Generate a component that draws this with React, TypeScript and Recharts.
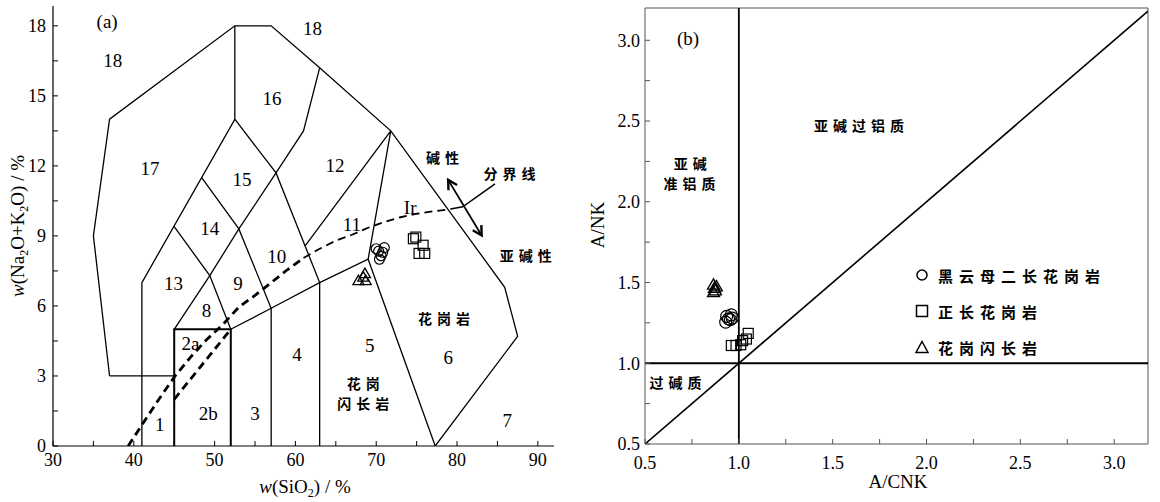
import React from "react";
import {
  ComposedChart,
  Line,
  Scatter,
  XAxis,
  YAxis,
  ReferenceLine,
  Legend,
} from "recharts";

const serif = "'Liberation Serif', 'Times New Roman', serif";
const cjk = "'Noto Sans CJK SC', sans-serif";

// ---------- (a) TAS diagram ----------
const tasXTicks = [30, 35, 40, 45, 50, 55, 60, 65, 70, 75, 80, 85, 90];
const tasYTicks = [0, 1.5, 3, 4.5, 6, 7.5, 9, 10.5, 12, 13.5, 15, 16.5, 18];

const outerBoundary = [
  [37, 3], [35, 9], [37, 14], [52.5, 18], [57, 18], [63, 16.2],
  [71.8, 13.5], [85.9, 6.8], [87.5, 4.7], [77.3, 0],
];
const fieldLines = [
  [[37, 3], [45, 3]],
  [[41, 0], [41, 7], [52.5, 14], [52.5, 18]],
  [[45, 5], [49.4, 7.3], [53, 9.3], [57.6, 11.7], [61, 13.5], [63, 16.2]],
  [[45, 9.4], [49.4, 7.3], [52, 5]],
  [[48.4, 11.5], [53, 9.3], [57, 5.9], [57, 0]],
  [[52.5, 14], [57.6, 11.7], [63, 7], [63, 0]],
  [[52, 5], [57, 5.9], [63, 7], [69, 8], [77.3, 0]],
  [[69, 8], [71.8, 13.5], [61.2, 8.57]],
];
const basaltBox = [[45, 0], [45, 5], [52, 5], [52, 0]];
const irvineLower = [
  [39.3, 0], [41, 0.9], [43, 1.95], [45, 2.95], [47, 3.8], [49, 4.55],
  [51, 5.2], [53, 5.95], [55, 6.45], [57, 7.0], [59, 7.55], [61, 8.05],
];
const irvineUpper = [
  [61, 8.05], [63, 8.45], [65, 8.8], [67, 9.05], [69, 9.35], [71, 9.6],
  [73, 9.8], [75, 9.95], [77, 10.05], [79.2, 10.15],
];
const basaltSplit = [[45, 2], [52, 5]];
const leader = [[79.2, 10.15], [80.7, 10.25], [84.7, 11.23]];
const arrowShaft = [[78.9, 11.4], [83.05, 9.02]];
const arrowTipUp = [[78.9, 11.4]];
const arrowTipDown = [[83.05, 9.02]];

const tasBiotite = [[70.0, 8.45], [71.0, 8.5], [70.6, 8.15], [70.4, 8.0], [70.8, 8.3], [70.3, 8.35]];
const tasSyeno = [[74.6, 8.88], [74.9, 8.95], [75.8, 8.6], [75.3, 8.25], [76.0, 8.25]];
const tasGrano = [[67.8, 7.05], [68.6, 7.35], [68.7, 7.05], [68.4, 7.2]];

const tasNumbers = [
  ["(a)", 36.7, 18.2], ["18", 37.4, 16.5], ["18", 62.1, 17.9], ["16", 57.1, 14.9],
  ["17", 42, 11.9], ["15", 53.4, 11.4], ["14", 49.4, 9.3], ["12", 64.9, 12.0],
  ["13", 44.9, 6.95], ["8", 49, 5.8], ["9", 52.9, 6.95], ["10", 57.7, 8.1],
  ["11", 67.0, 9.5], ["Ir", 74.2, 10.2], ["2a", 47, 4.4], ["2b", 49.2, 1.4],
  ["1", 43.2, 0.9], ["3", 55, 1.4], ["4", 60.2, 3.9], ["5", 69.2, 4.3],
  ["6", 78.9, 3.8], ["7", 86.2, 1.1],
];
const tasWords = [
  ["花岗岩", 78.7, 5.5], ["花岗", 68.7, 2.7], ["闪长岩", 68.7, 1.85],
  ["碱性", 78.5, 12.4], ["分界线", 86.8, 11.7], ["亚碱性", 88.8, 8.2],
];

// ---------- (b) A/CNK - A/NK ----------
const acnkTicks = [0.5, 0.75, 1, 1.25, 1.5, 1.75, 2, 2.25, 2.5, 2.75, 3];
const diagonal = [[0.5, 0.5], [3.18, 3.18]];
const acnkBiotite = [[0.935, 1.29], [0.96, 1.3], [0.955, 1.27], [0.93, 1.255], [0.945, 1.275], [0.965, 1.28]];
const acnkSyeno = [[0.96, 1.11], [0.985, 1.11], [1.01, 1.115], [1.05, 1.185], [1.04, 1.15], [1.02, 1.14]];
const acnkGrano = [[0.865, 1.48], [0.87, 1.46], [0.875, 1.445], [0.865, 1.435], [0.88, 1.47]];
const acnkWords = [
  ["亚碱过铝质", 1.654, 2.475], ["亚碱", 0.755, 2.24], ["准铝质", 0.75, 2.116], ["过碱质", 0.676, 0.884],
];
const acnkTags = [["(b)", 0.729, 3.014]];

const sampleNames = ["黑云母二长花岗岩", "正长花岗岩", "花岗闪长岩"];

const pts = (a: number[][]) => a.map(([x, y]) => ({ x, y }));
const txt = (a: any[][]) => a.map(([t, x, y]) => ({ t, x, y }));

const circleShape = (r: number) => (p: any) => (
  <circle cx={p.cx} cy={p.cy} r={r} fill="none" stroke="#000" strokeWidth={1.2} />
);
const squareShape = (s: number) => (p: any) => (
  <rect x={p.cx - s / 2} y={p.cy - s / 2} width={s} height={s} fill="none" stroke="#000" strokeWidth={1.2} />
);
const triangleShape = (s: number) => (p: any) => {
  const h = s * 0.866;
  return (
    <path
      d={`M${p.cx},${p.cy - (2 * h) / 3}L${p.cx + s / 2},${p.cy + h / 3}L${p.cx - s / 2},${p.cy + h / 3}Z`}
      fill="none"
      stroke="#000"
      strokeWidth={1.3}
    />
  );
};
const arrowShape = (deg: number) => (p: any) => (
  <path
    d="M-9,-5L0,0L-9,5"
    transform={`translate(${p.cx},${p.cy}) rotate(${deg})`}
    fill="none"
    stroke="#000"
    strokeWidth={2.4}
  />
);
const serifText = (p: any) => (
  <text x={p.cx} y={p.cy} textAnchor="middle" dominantBaseline="central" fontFamily={serif} fontSize={19} fill="#000">
    {p.payload.t}
  </text>
);
const cjkText = (p: any) => (
  <text x={p.cx} y={p.cy} textAnchor="middle" dominantBaseline="central" fontFamily={cjk} fontWeight={700} fontSize={14} letterSpacing={5} fill="#000">
    {p.payload.t}
  </text>
);

const tickStyle = { fill: "#000", fontSize: 18, fontFamily: serif };

const TasXTitle = () => (
  <text x={305} y={493} textAnchor="middle" fontFamily={serif} fontSize={19} fill="#000">
    <tspan fontStyle="italic">w</tspan>(SiO<tspan dy={4} fontSize={12}>2</tspan>
    <tspan dy={-4}>) / %</tspan>
  </text>
);
const TasYTitle = () => (
  <text x={24} y={226} transform="rotate(-90, 24, 226)" textAnchor="middle" fontFamily={serif} fontSize={19} fill="#000">
    <tspan fontStyle="italic">w</tspan>(Na<tspan dy={4} fontSize={12}>2</tspan>
    <tspan dy={-4}>O+K</tspan>
    <tspan dy={4} fontSize={12}>2</tspan>
    <tspan dy={-4}>O) / %</tspan>
  </text>
);
const AcnkXTitle = () => (
  <text x={318} y={488} textAnchor="middle" fontFamily={serif} fontSize={19} fill="#000">A/CNK</text>
);
const AcnkYTitle = () => (
  <text x={24} y={225} transform="rotate(-90, 24, 225)" textAnchor="middle" fontFamily={serif} fontSize={19} fill="#000">A/NK</text>
);

const legendIcon = (name: string) => {
  if (name === sampleNames[0]) return <circle cx={8} cy={8} r={5} fill="none" stroke="#000" strokeWidth={1.5} />;
  if (name === sampleNames[1]) return <rect x={2.5} y={2.5} width={11} height={11} fill="none" stroke="#000" strokeWidth={1.5} />;
  return <path d="M8,2.5L14,13.5L2,13.5Z" fill="none" stroke="#000" strokeWidth={1.5} />;
};

const SampleLegend = (props: any) => {
  const items = (props.payload || [])
    .filter((e: any) => sampleNames.includes(e.value))
    .sort((a: any, b: any) => sampleNames.indexOf(a.value) - sampleNames.indexOf(b.value));
  return (
    <div style={{ fontFamily: cjk, fontWeight: 700, fontSize: 15, letterSpacing: 6, color: "#000" }}>
      {items.map((e: any) => (
        <div key={e.value} style={{ display: "flex", alignItems: "center", height: 36 }}>
          <svg width={16} height={16}>{legendIcon(e.value)}</svg>
          <span style={{ marginLeft: 8 }}>{e.value}</span>
        </div>
      ))}
    </div>
  );
};

const lineProps = {
  dataKey: "y",
  stroke: "#000",
  dot: false,
  activeDot: false,
  isAnimationActive: false,
  legendType: "none" as const,
};

function TasChart() {
  return (
    <ComposedChart width={580} height={502} margin={{ top: 6, right: 26, bottom: 26, left: 13 }}>
      <XAxis
        type="number"
        dataKey="x"
        domain={[30, 92]}
        ticks={tasXTicks}
        interval={0}
        allowDataOverflow
        height={30}
        tickSize={-5}
        tickMargin={12}
        tickFormatter={(v) => (v % 10 === 0 ? String(v) : "")}
        axisLine={{ stroke: "#000", strokeWidth: 1.2 }}
        tickLine={{ stroke: "#000" }}
        tick={tickStyle}
        label={<TasXTitle />}
      />
      <YAxis
        type="number"
        domain={[0, 18.85]}
        ticks={tasYTicks}
        interval={0}
        allowDataOverflow
        width={40}
        tickSize={-5}
        tickMargin={12}
        tickFormatter={(v) => (v % 3 === 0 ? String(v) : "")}
        axisLine={{ stroke: "#000", strokeWidth: 1.2 }}
        tickLine={{ stroke: "#000" }}
        tick={tickStyle}
        label={<TasYTitle />}
      />
      <Line {...lineProps} data={pts(outerBoundary)} strokeWidth={1.3} />
      {fieldLines.map((d, i) => (
        <Line key={i} {...lineProps} data={pts(d)} strokeWidth={1.3} />
      ))}
      <Line {...lineProps} data={pts(basaltBox)} strokeWidth={2} />
      <Line {...lineProps} data={pts(irvineLower)} strokeWidth={2.8} strokeDasharray="8 5" />
      <Line {...lineProps} data={pts(irvineUpper)} strokeWidth={1.8} strokeDasharray="8 5" />
      <Line {...lineProps} data={pts(basaltSplit)} strokeWidth={2.8} strokeDasharray="8 5" />
      <Line {...lineProps} data={pts(leader)} strokeWidth={1.5} />
      <Line {...lineProps} data={pts(arrowShaft)} strokeWidth={1.8} />
      <Scatter data={pts(arrowTipUp)} dataKey="y" shape={arrowShape(-121)} isAnimationActive={false} legendType="none" />
      <Scatter data={pts(arrowTipDown)} dataKey="y" shape={arrowShape(59)} isAnimationActive={false} legendType="none" />
      <Scatter name={sampleNames[0]} data={pts(tasBiotite)} dataKey="y" shape={circleShape(5)} isAnimationActive={false} />
      <Scatter name={sampleNames[1]} data={pts(tasSyeno)} dataKey="y" shape={squareShape(10)} isAnimationActive={false} />
      <Scatter name={sampleNames[2]} data={pts(tasGrano)} dataKey="y" shape={triangleShape(11)} isAnimationActive={false} />
      <Scatter data={txt(tasNumbers)} dataKey="y" shape={serifText} isAnimationActive={false} legendType="none" />
      <Scatter data={txt(tasWords)} dataKey="y" shape={cjkText} isAnimationActive={false} legendType="none" />
    </ComposedChart>
  );
}

const isHalf = (v: number) => Math.abs(v * 2 - Math.round(v * 2)) < 1e-6;

function AcnkChart() {
  return (
    <ComposedChart width={580} height={502} margin={{ top: 8, right: 12, bottom: 28, left: 25 }}>
      <XAxis
        type="number"
        dataKey="x"
        domain={[0.5, 3.18]}
        ticks={acnkTicks}
        interval={0}
        allowDataOverflow
        height={30}
        tickSize={-5}
        tickMargin={17}
        tickFormatter={(v) => (isHalf(v) ? v.toFixed(1) : "")}
        axisLine={{ stroke: "#555" }}
        tickLine={{ stroke: "#555" }}
        tick={tickStyle}
        label={<AcnkXTitle />}
      />
      <YAxis
        type="number"
        domain={[0.5, 3.2]}
        ticks={acnkTicks}
        interval={0}
        allowDataOverflow
        width={40}
        tickSize={-5}
        tickMargin={10}
        tickFormatter={(v) => (isHalf(v) ? v.toFixed(1) : "")}
        axisLine={{ stroke: "#555" }}
        tickLine={{ stroke: "#555" }}
        tick={tickStyle}
        label={<AcnkYTitle />}
      />
      <ReferenceLine y={3.2} stroke="#555" ifOverflow="visible" />
      <ReferenceLine x={3.18} stroke="#555" ifOverflow="visible" />
      <ReferenceLine x={1} stroke="#000" strokeWidth={1.8} />
      <ReferenceLine y={1} stroke="#000" strokeWidth={1.8} />
      <Line {...lineProps} data={pts(diagonal)} strokeWidth={1.6} />
      <Scatter name={sampleNames[0]} data={pts(acnkBiotite)} dataKey="y" shape={circleShape(6)} isAnimationActive={false} />
      <Scatter name={sampleNames[1]} data={pts(acnkSyeno)} dataKey="y" shape={squareShape(10)} isAnimationActive={false} />
      <Scatter name={sampleNames[2]} data={pts(acnkGrano)} dataKey="y" shape={triangleShape(12)} isAnimationActive={false} />
      <Scatter data={txt(acnkTags)} dataKey="y" shape={serifText} isAnimationActive={false} legendType="none" />
      <Scatter data={txt(acnkWords)} dataKey="y" shape={cjkText} isAnimationActive={false} legendType="none" />
      <Legend
        layout="vertical"
        align="center"
        verticalAlign="middle"
        content={<SampleLegend />}
        wrapperStyle={{ top: 257, left: 334, width: 240 }}
      />
    </ComposedChart>
  );
}

export default function App() {
  return (
    <div style={{ position: "absolute", left: 0, top: 0, width: 1160, height: 502, background: "#fff" }}>
      <div style={{ position: "absolute", left: 0, top: 0 }}>
        <TasChart />
      </div>
      <div style={{ position: "absolute", left: 580, top: 0 }}>
        <AcnkChart />
      </div>
    </div>
  );
}
